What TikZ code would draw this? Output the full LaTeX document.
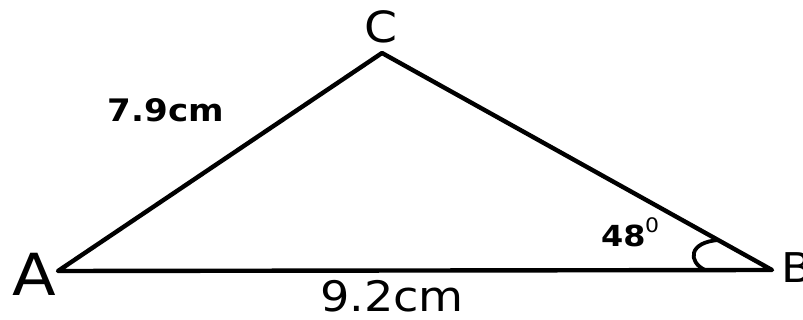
\documentclass[tikz,border=0pt]{standalone}
\usepackage{fontspec}
\setmainfont{DejaVu Sans}[FakeStretch=1.1]
\begin{document}
\begin{tikzpicture}[x=1pt,y=-1pt,
  edge/.style={line width=4.4pt,line join=round,line cap=round},
  lbl/.style={inner sep=0pt,anchor=base}]
\useasboundingbox (0,0) rectangle (803,320);
\coordinate (A) at (58,271);
\coordinate (B) at (772,270);
\coordinate (C) at (382,53);
\draw[edge] (A) -- (B) -- (C) -- cycle;
\coordinate (arcS) at (705,270);
\coordinate (arcE) at (719,240);
\draw[line width=3.8pt] (arcS) .. controls (688,262) and (688,242) .. (arcE);
\node[lbl] (lA) at (34,295) {\fontsize{58}{58}\selectfont A};
\node[lbl] (lC) at (381,43) {\fontsize{43}{43}\selectfont C};
\node[lbl,anchor=base west] (lB) at (781,283) {\fontsize{41}{41}\selectfont B};
\node[lbl] (l92) at (392,312) {\fontsize{42}{42}\selectfont 9.2cm};
\node[lbl] (l79) at (166,122) {\fontsize{31}{31}\selectfont\bfseries 7.9cm};
\node[lbl,anchor=base west] (l48) at (601,247) {\fontsize{29}{29}\selectfont\bfseries 48};
\node[lbl,anchor=base west] (ldeg) at (645,233) {\fontsize{20}{20}\selectfont 0};
\end{tikzpicture}
\end{document}
